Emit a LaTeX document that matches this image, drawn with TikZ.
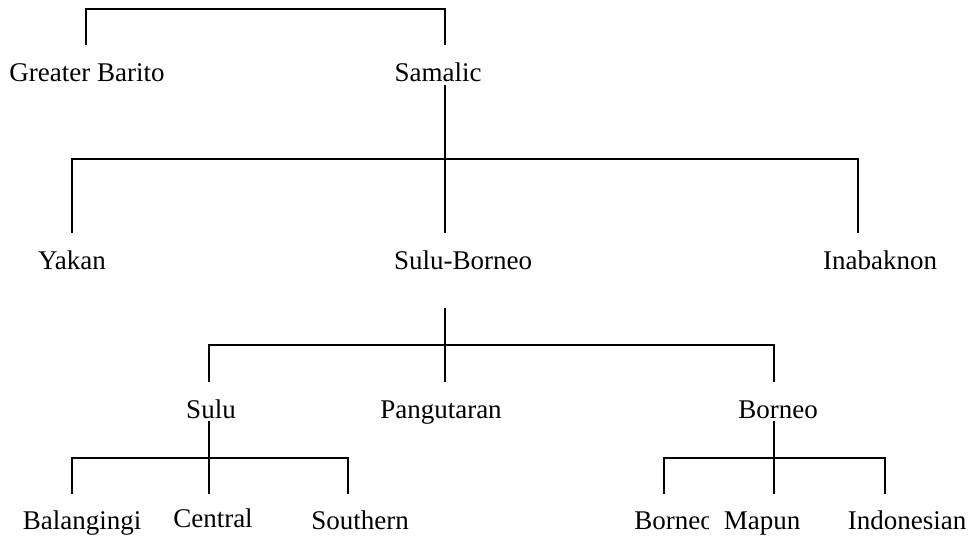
\documentclass[tikz,border=0pt]{standalone}
\usepackage{fontspec}
\setmainfont{Liberation Serif}
\usepackage{tikz}
\usetikzlibrary{positioning}
\tikzset{
	langnode/.style={
			anchor=base,
			inner sep=0pt,
			font=\fontsize{20.25}{24}\selectfont
		},
	branch/.style={
			draw=black,
			line width=1.4pt
		}
}

\begin{document}
\begin{tikzpicture}[x=0.75pt, y=-0.75pt]
				\useasboundingbox (0,0) rectangle (970,538);

				\node[langnode] (tgb) at (87,82) {Greater Barito};
				\node[langnode] (tsam) at (438,82) {Samalic};

				\node[langnode] (tya) at (72,269) {Yakan};
				\node[langnode] (tsb) at (463,269) {Sulu-Borneo};
				\node[langnode] (tin) at (880,269) {Inabaknon};

				\node[langnode] (tsu) at (211,418) {Sulu};
				\node[langnode] (tpa) at (441,418) {Pangutaran};
				\node[langnode] (tbo) at (778,418) {Borneo};

				\node[langnode] (tba) at (82,529) {Balangingi};
				\node[langnode] (tce) at (213,527) {Central};
				\node[langnode] (tso) at (360,529) {Southern};
				\begin{scope}
					\clip (600,470) rectangle (708,538);
					\node[langnode] (tbn) at (674,529) {Borneo};
				\end{scope}
				\node[langnode] (tma) at (762,529) {Mapun};
				\node[langnode] (tid) at (907,529) {Indonesian};

				% Greater Barito / Samalic
				\coordinate (dgb) at (86,45);
				\coordinate (dsam) at (445,45);
				\coordinate (btop) at (266,9);
				\draw[branch] (dgb) |- (btop) -| (dsam);

				% Samalic
				\coordinate (ssam) at (445,85);
				\coordinate (bsam) at (445,159);
				\coordinate (dya) at (72,233);
				\coordinate (dsb) at (445,233);
				\coordinate (din) at (858,233);
				\draw[branch] (dya) |- (bsam) -| (din);
				\draw[branch] (ssam) -- (dsb);

				% Sulu-Borneo
				\coordinate (ssb) at (445,308);
				\coordinate (bsb) at (445,345);
				\coordinate (dsu) at (209,382);
				\coordinate (dpa) at (445,382);
				\coordinate (dbo) at (774,382);
				\draw[branch] (dsu) |- (bsb) -| (dbo);
				\draw[branch] (ssb) -- (dpa);

				% Sulu
				\coordinate (ssu) at (209,421);
				\coordinate (bsu) at (209,458);
				\coordinate (dba) at (72,494);
				\coordinate (dce) at (209,494);
				\coordinate (dso) at (348,494);
				\draw[branch] (dba) |- (bsu) -| (dso);
				\draw[branch] (ssu) -- (dce);

				% Borneo
				\coordinate (sbo) at (774,421);
				\coordinate (bbo) at (774,458);
				\coordinate (dbn) at (664,494);
				\coordinate (dma) at (774,494);
				\coordinate (did) at (885,494);
				\draw[branch] (dbn) |- (bbo) -| (did);
				\draw[branch] (sbo) -- (dma);
			\end{tikzpicture}
\end{document}
